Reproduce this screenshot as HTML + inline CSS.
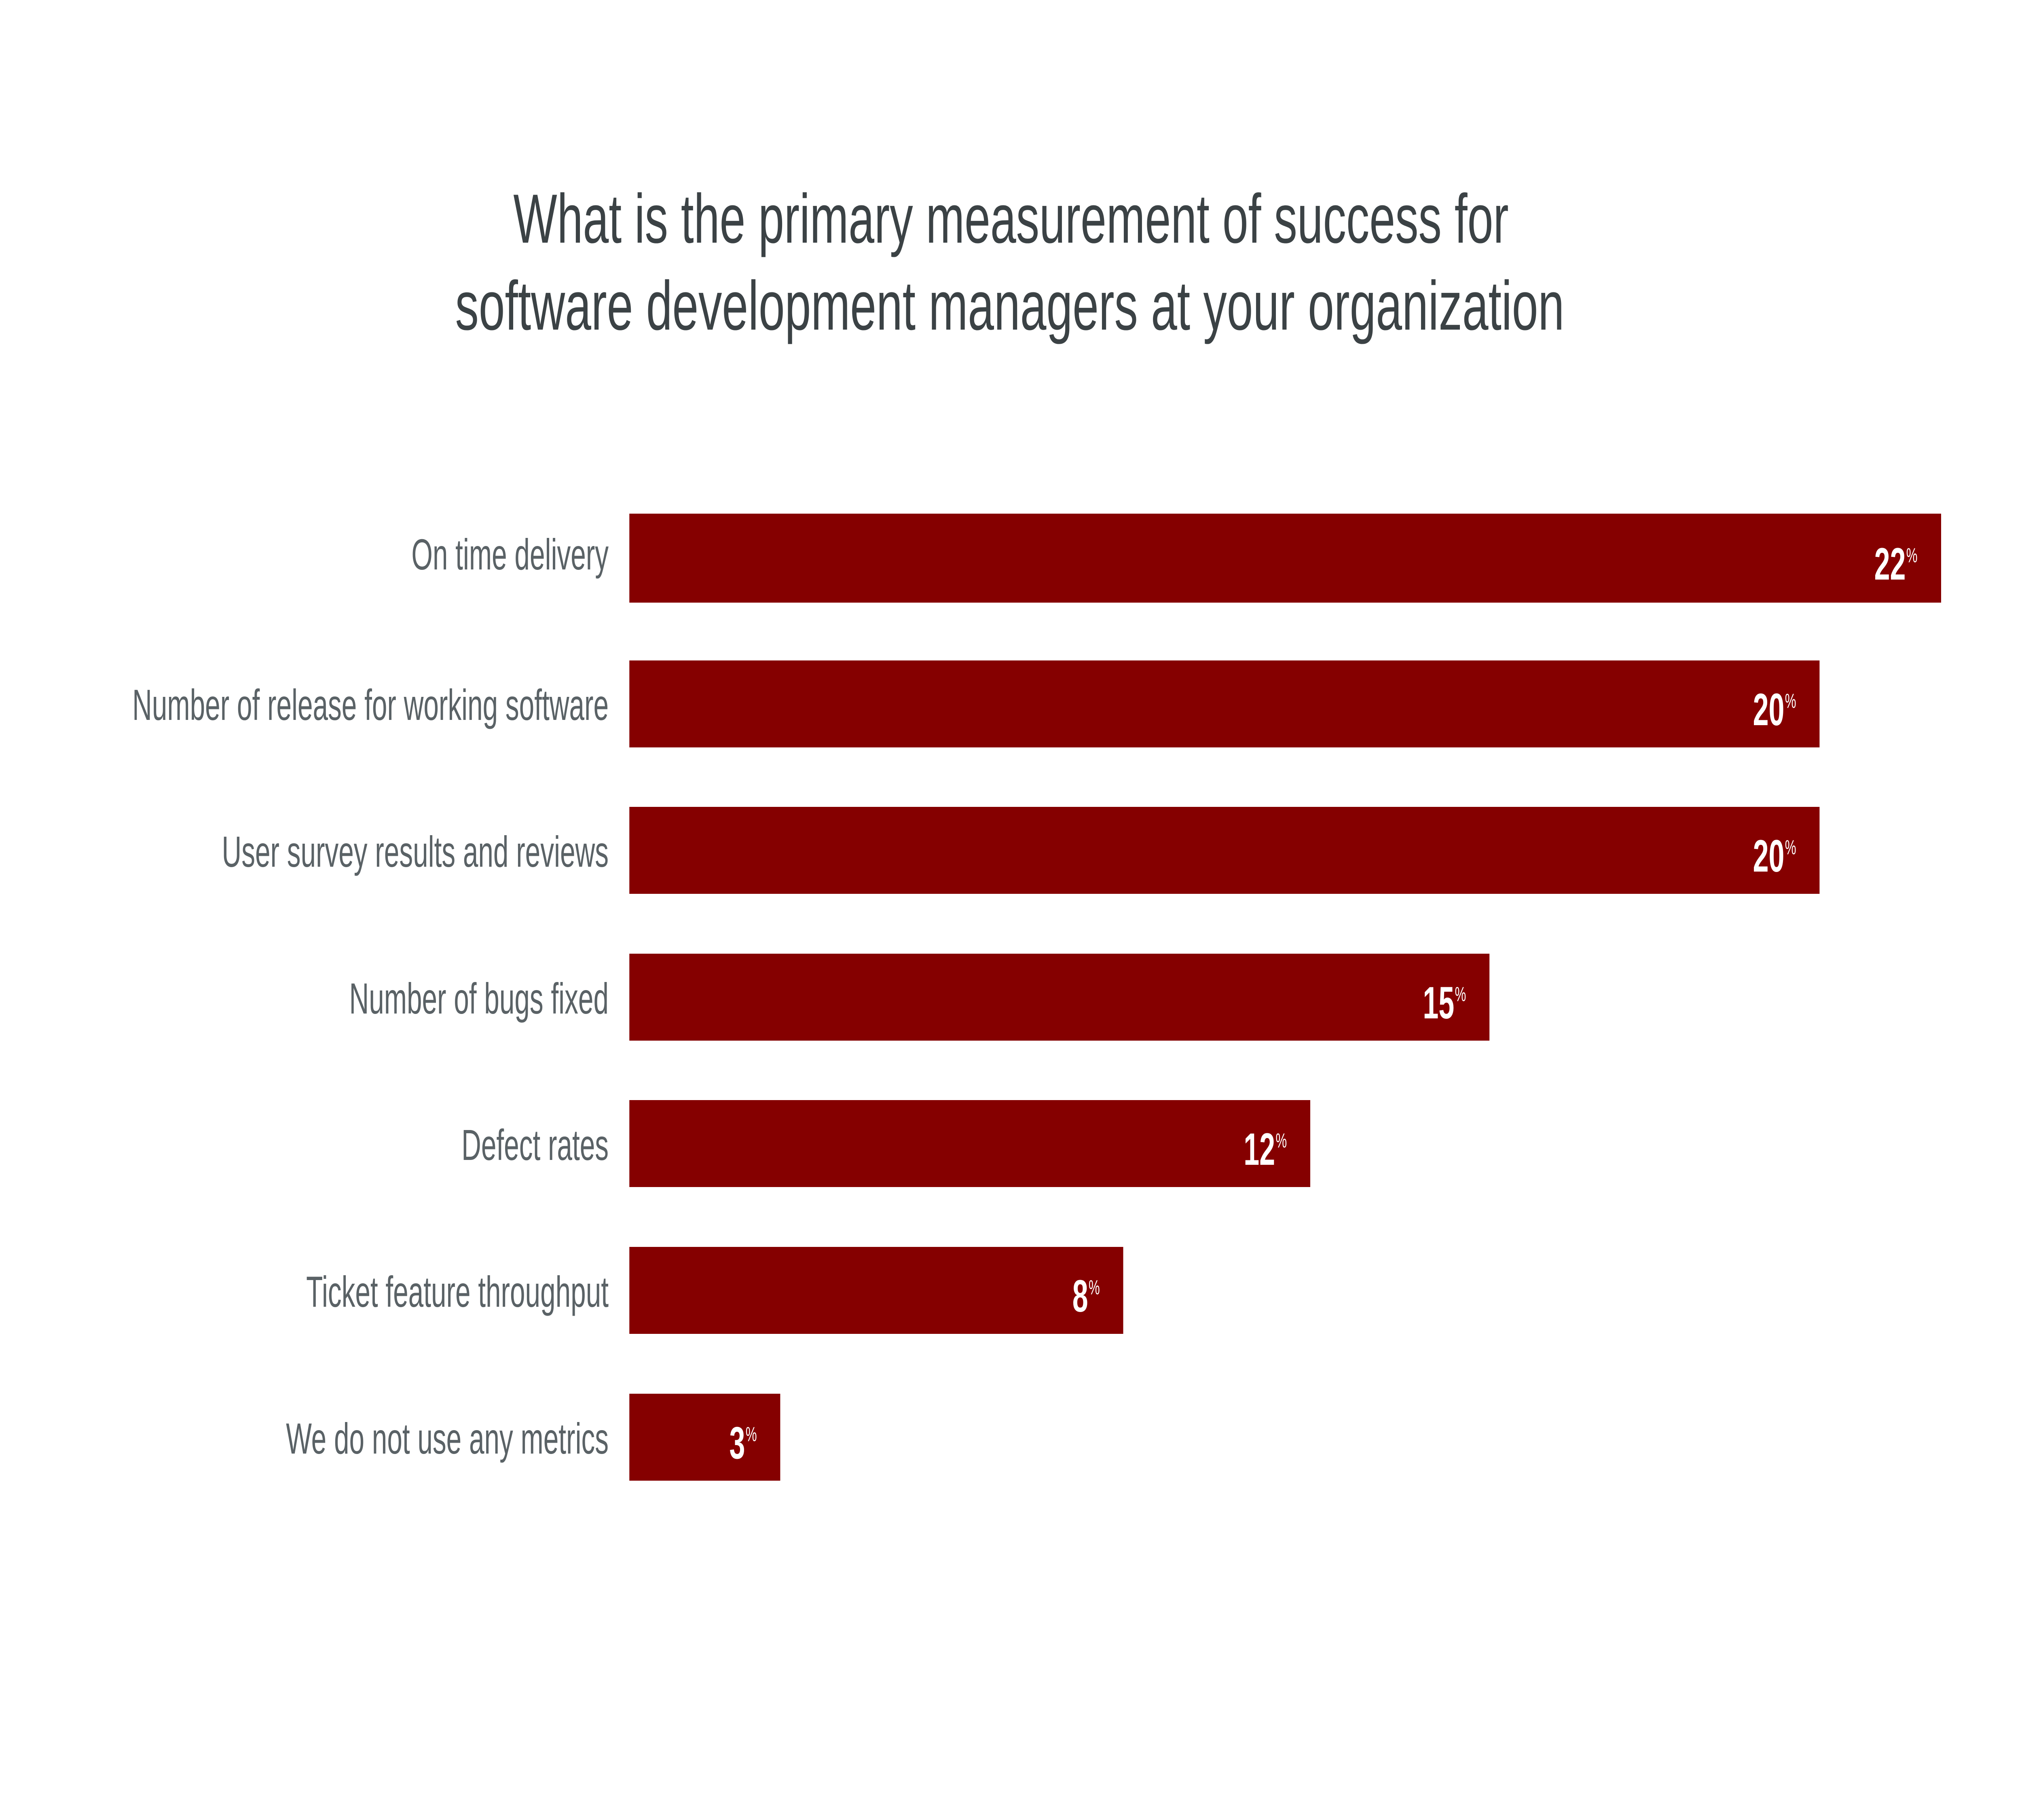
<!DOCTYPE html>
<html><head><meta charset="utf-8"><style>
html,body{margin:0;padding:0;background:#fff;overflow:hidden;}
svg{display:block;width:100vw;height:100vh;}
.t{font-family:"Liberation Sans",sans-serif;font-size:172px;fill:#3b4245;}
.l{font-family:"Liberation Sans",sans-serif;font-size:108px;fill:#5a6266;}
.v{font-family:"Liberation Sans",sans-serif;font-size:112px;font-weight:bold;fill:#fff;}
.p{font-family:"Liberation Sans",sans-serif;font-size:50px;fill:#fff;}
</style></head><body>
<svg viewBox="0 0 8000 4500" preserveAspectRatio="none" xmlns="http://www.w3.org/2000/svg">
<rect width="8000" height="4500" fill="#fff"/>
<text class="t" x="2031" y="600" textLength="3938" lengthAdjust="spacingAndGlyphs">What is the primary measurement of success for</text>
<text class="t" x="1801" y="815" textLength="4388" lengthAdjust="spacingAndGlyphs">software development managers at your organization</text>
<g fill="#850000">
<rect x="2490" y="1270" width="5190" height="220"/>
<rect x="2490" y="1633" width="4709" height="215"/>
<rect x="2490" y="1995" width="4709" height="215"/>
<rect x="2490" y="2358" width="3403" height="215"/>
<rect x="2490" y="2720" width="2694" height="215"/>
<rect x="2490" y="3083" width="1954" height="215"/>
<rect x="2490" y="3446" width="597" height="215"/>
</g>
<g text-anchor="end">
<text class="l" x="2408" y="1408">On time delivery</text>
<text class="l" x="2408" y="1780">Number of release for working software</text>
<text class="l" x="2408" y="2143">User survey results and reviews</text>
<text class="l" x="2408" y="2506">Number of bugs fixed</text>
<text class="l" x="2408" y="2868">Defect rates</text>
<text class="l" x="2408" y="3231">Ticket feature throughput</text>
<text class="l" x="2408" y="3594">We do not use any metrics</text>
</g>
<g>
<text class="v" x="7540" y="1433" text-anchor="end">22</text><text class="p" x="7542" y="1390">%</text>
<text class="v" x="7060" y="1793" text-anchor="end">20</text><text class="p" x="7062" y="1750">%</text>
<text class="v" x="7060" y="2155" text-anchor="end">20</text><text class="p" x="7062" y="2112">%</text>
<text class="v" x="5754" y="2518" text-anchor="end">15</text><text class="p" x="5756" y="2475">%</text>
<text class="v" x="5045" y="2880" text-anchor="end">12</text><text class="p" x="5047" y="2837">%</text>
<text class="v" x="4305" y="3243" text-anchor="end">8</text><text class="p" x="4307" y="3200">%</text>
<text class="v" x="2948" y="3606" text-anchor="end">3</text><text class="p" x="2950" y="3563">%</text>
</g>
</svg>
</body></html>
